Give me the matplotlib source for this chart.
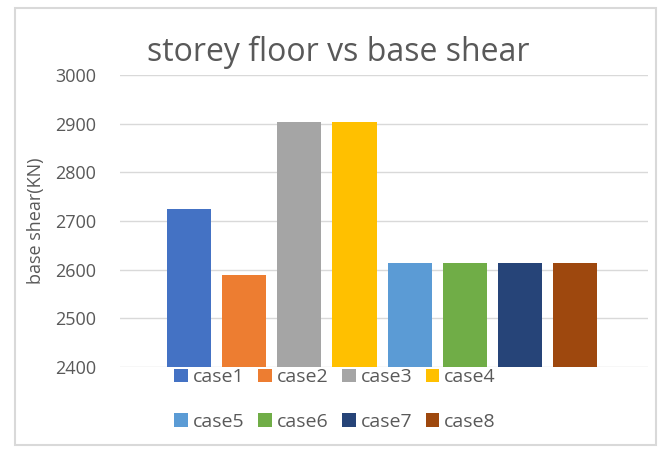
import numpy as np
import matplotlib.pyplot as plt
from matplotlib.patches import Rectangle

# data
cases = ['case1', 'case2', 'case3', 'case4', 'case5', 'case6', 'case7', 'case8']
base_shear = [2725, 2590, 2903, 2903, 2613, 2613, 2613, 2613]
colors = ['#4472C4', '#ED7D31', '#A5A5A5', '#FFC000',
          '#5B9BD5', '#70AD47', '#264478', '#9E480E']
yticks = [2400, 2500, 2600, 2700, 2800, 2900, 3000]

plt.rcParams['font.family'] = ['Open Sans', 'DejaVu Sans']
txt = '#595959'

fig = plt.figure(figsize=(6.65, 4.54), dpi=100)
ax = fig.add_axes([0.180, 0.1916, 0.794, 0.6434])

x = np.arange(len(cases))
bars = []
for i in range(len(cases)):
    b = ax.bar(x[i], base_shear[i], width=0.8, color=colors[i], label=cases[i], zorder=3)
    bars.append(b)

ax.set_ylim(2400, 3000)
ax.set_xlim(-1.26, 8.32)
ax.set_yticks(yticks)
ax.set_yticklabels([str(t) for t in yticks], fontsize=13, color=txt)
ax.set_xticks([])
ax.tick_params(axis='y', length=0, pad=17)
ax.grid(axis='y', color='#d9d9d9', linewidth=1, zorder=0)
for s in ax.spines.values():
    s.set_visible(False)

ax.set_ylabel('base shear(KN)', fontsize=13, color=txt)
ax.yaxis.set_label_coords(-0.142, 0.5)

fig.text(0.508, 0.885, 'storey floor vs base shear', fontsize=23,
         color=txt, ha='center', va='center')

# legend fills row by row, like the original
order = [0, 4, 1, 5, 2, 6, 3, 7]
fig.legend([bars[i] for i in order], [cases[i] for i in order],
           loc='center', bbox_to_anchor=(0.504, 0.12), ncol=4, frameon=False,
           fontsize=14, labelcolor=txt, handlelength=0.7, handleheight=0.7,
           handletextpad=0.25, columnspacing=0.7, labelspacing=1.35)

# light outer border of the chart area
fig.patches.append(Rectangle((0.022, 0.02), 0.965, 0.963, transform=fig.transFigure,
                             fill=False, edgecolor='#d9d9d9', linewidth=1.5))

fig.savefig('out.png', dpi=100)
